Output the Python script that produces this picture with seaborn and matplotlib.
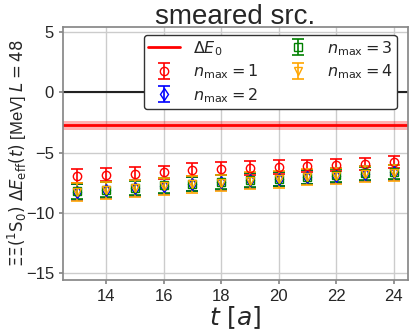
import matplotlib
matplotlib.use("Agg")
import matplotlib.pyplot as plt
import numpy as np
import seaborn as sns

t_vals = [13, 14, 15, 16, 17, 18, 19, 20, 21, 22, 23, 24]

nmax1 = [-6.95, -6.83, -6.75, -6.64, -6.42, -6.33, -6.28, -6.2, -6.08, -6.0, -5.92, -5.8]
nmax1_err = [0.55, 0.55, 0.55, 0.55, 0.55, 0.55, 0.55, 0.55, 0.5, 0.5, 0.5, 0.5]

nmax2 = [-8.25, -8.1, -7.95, -7.75, -7.6, -7.47, -7.3, -7.2, -7.03, -6.92, -6.75, -6.64]
nmax2_err = [0.65, 0.65, 0.65, 0.65, 0.6, 0.6, 0.6, 0.6, 0.6, 0.6, 0.6, 0.6]

nmax3 = [-8.22, -8.08, -7.92, -7.73, -7.58, -7.45, -7.28, -7.18, -7.01, -6.9, -6.73, -6.62]
nmax3_err = [0.6, 0.6, 0.6, 0.6, 0.58, 0.58, 0.58, 0.58, 0.56, 0.56, 0.56, 0.56]

nmax4 = [-8.28, -8.12, -7.97, -7.78, -7.62, -7.5, -7.32, -7.22, -7.05, -6.95, -6.78, -6.67]
nmax4_err = [0.72, 0.72, 0.72, 0.7, 0.7, 0.68, 0.68, 0.68, 0.66, 0.66, 0.66, 0.66]

dE0 = -2.75
dE0_err = 0.35

sns.set_theme(style="whitegrid")
plt.rcParams["font.family"] = ["Liberation Sans", "DejaVu Sans"]
plt.rcParams["mathtext.fontset"] = "dejavusans"

fig = plt.figure(figsize=(4.15, 3.3), dpi=100)
ax = fig.add_axes([0.152, 0.152, 0.831, 0.766])

ax.axhline(0, color="#222222", linewidth=1.5, zorder=1)
ax.axhspan(dE0 - dE0_err, dE0 + dE0_err, color="red", alpha=0.3, linewidth=0, zorder=1)
ax.axhline(dE0, color="red", linewidth=2, label=r"$\Delta E_0$", zorder=2)

series = [
    (nmax1, nmax1_err, "red", "o", r"$n_{\rm max}=1$"),
    (nmax2, nmax2_err, "blue", "d", r"$n_{\rm max}=2$"),
    (nmax3, nmax3_err, "green", "s", r"$n_{\rm max}=3$"),
    (nmax4, nmax4_err, "orange", "v", r"$n_{\rm max}=4$"),
]
for vals, errs, col, mk, lab in series:
    ax.errorbar(t_vals, vals, yerr=errs, fmt=mk, color=col, mfc="none",
                markersize=6, capsize=4, elinewidth=1.2, capthick=1.2,
                label=lab, zorder=3)

ax.set_xlim(12.5, 24.5)
ax.set_ylim(-15.55, 5.4)
ax.set_xticks([14, 16, 18, 20, 22, 24])
ax.set_yticks([5, 0, -5, -10, -15])
ax.tick_params(axis="both", labelsize=12, length=3, color="#888888", left=True, bottom=True)
for s in ax.spines.values():
    s.set_color("#888888")

ax.set_title("smeared src.", fontsize=20, pad=2)
ax.set_xlabel(r"$t\ [a]$", fontsize=18, labelpad=0)
ax.set_ylabel(r"$\Xi\Xi(^1\mathrm{S}_0)\ \Delta E_{\rm eff}(t)$ [MeV] $L=48$", fontsize=12, labelpad=1)
ax.yaxis.set_label_coords(-0.1, 0.5)

handles, labels = ax.get_legend_handles_labels()
leg = ax.legend(handles, labels, ncol=2, loc="upper right", fontsize=11.5,
                frameon=True, edgecolor="#333333", framealpha=1.0,
                handlelength=2.0, handletextpad=0.8, columnspacing=1.5,
                borderpad=0.25, labelspacing=0.3, bbox_to_anchor=(0.99, 1.0))

fig.savefig("out.png", dpi=100)
